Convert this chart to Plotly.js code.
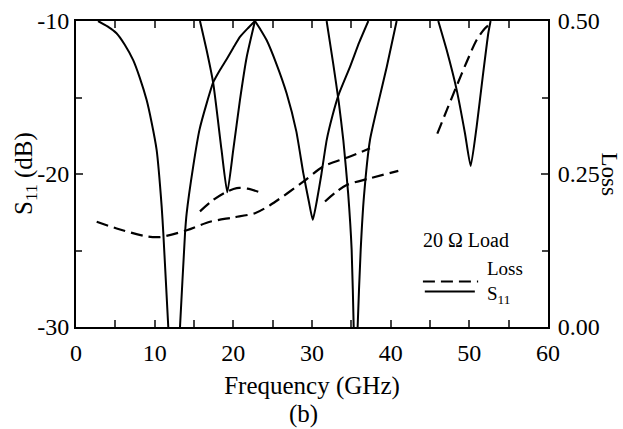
<!DOCTYPE html>
<html>
<head>
<meta charset="utf-8">
<script src="https://cdn.plot.ly/plotly-3.0.1.min.js"></script>
<style>
html,body{margin:0;padding:0;background:#fff;}
#chart{width:623px;height:429px;}
</style>
</head>
<body>
<div id="chart"></div>
<script>
// ---- S11 curves (dB) ----
const s11FreqA = [2.8, 4.0, 5.15, 6.2, 7.27, 8.1, 8.98, 9.6, 10.25, 10.89, 11.1, 11.73, 12.47, 13.22, 13.86, 14.07, 14.9, 15.7, 16.6, 17.45, 18.3, 19.15, 20.0, 20.84, 21.8, 22.75];
const s11ValA  = [-10, -10.35, -10.8, -11.55, -12.56, -13.7, -15.17, -16.6, -18.43, -22.13, -23.87, -30, -37, -30, -23.87, -22.56, -19.5, -17.1, -15.4, -14.0, -13.2, -12.5, -11.75, -11.04, -10.5, -10];

const s11FreqB = [22.75, 23.5, 24.24, 25.4, 26.78, 28.0, 28.9, 29.6, 30.1, 30.6, 31.2, 31.86, 32.6, 33.4, 34.83, 36.0, 37.16];
const s11ValB  = [-10, -10.6, -11.26, -12.7, -14.74, -17.2, -19.96, -21.8, -23.0, -21.8, -20.0, -17.8, -16.2, -14.8, -13.0, -11.4, -10];

const s11FreqC = [15.76, 16.6, 17.45, 18.5, 19.23, 19.99, 20.84, 21.7, 22.75];
const s11ValC  = [-10, -11.9, -14.08, -18.43, -21.2, -18.43, -15.17, -12.35, -10];

const s11FreqD = [31.86, 32.7, 33.4, 33.98, 34.6, 35.04, 35.3, 35.55, 35.8, 36.19, 36.6, 37.37, 38.4, 39.5, 40.76];
const s11ValD  = [-10, -12.8, -15.3, -17.78, -21.3, -24.96, -30, -38, -30, -24.96, -21.5, -17.78, -15.4, -13.0, -10];

const s11FreqE = [46.05, 47.12, 48.39, 49.45, 50.17, 50.93, 51.7, 52.41, 52.7];
const s11ValE  = [-10, -11.9, -14.5, -17.35, -19.48, -16.9, -13.65, -10.8, -10];

// ---- Loss curves ----
const lossFreq1 = [2.63, 5.17, 8.99, 10.7, 14.07, 17.03, 20.0, 22.75, 24.66, 28.85, 31.4, 34.5, 37.37];
const lossVal1  = [0.172, 0.161, 0.148, 0.147, 0.158, 0.172, 0.179, 0.186, 0.199, 0.237, 0.262, 0.277, 0.292];

const lossFreq2 = [15.76, 17.45, 19.16, 20.43, 21.8, 23.17];
const lossVal2  = [0.189, 0.2076, 0.221, 0.227, 0.226, 0.221];

const lossFreq3 = [31.65, 33.0, 34.4, 37.37, 40.97];
const lossVal3  = [0.205, 0.220, 0.232, 0.243, 0.255];

const lossFreq4 = [45.93, 47.12, 48.39, 49.66, 50.93, 52.0, 52.84];
const lossVal4  = [0.316, 0.354, 0.394, 0.433, 0.469, 0.488, 0.497];

// ---- axis ticks ----
const xTicks = [0, 10, 20, 30, 40, 50, 60];
const yTicks = [-30, -20, -10];
const yTickText = ['-30', '-20', '-10'];
const y2Ticks = [0, 0.25, 0.5];
const y2TickText = ['0.00', '0.25', '0.50'];

const FONT = "'Liberation Serif', 'Times New Roman', serif";

function s11(x, y) {
  return {x: x, y: y, type: 'scatter', mode: 'lines', yaxis: 'y', showlegend: false,
    line: {color: '#000', width: 2, shape: 'spline', smoothing: 0.5}, hoverinfo: 'skip'};
}
function loss(x, y) {
  return {x: x, y: y, type: 'scatter', mode: 'lines', yaxis: 'y2', showlegend: false,
    line: {color: '#000', width: 2.2, dash: '12px,6px', shape: 'spline', smoothing: 0.8}, hoverinfo: 'skip'};
}

const data = [
  s11(s11FreqA, s11ValA), s11(s11FreqB, s11ValB), s11(s11FreqC, s11ValC),
  s11(s11FreqD, s11ValD), s11(s11FreqE, s11ValE),
  loss(lossFreq1, lossVal1), loss(lossFreq2, lossVal2),
  loss(lossFreq3, lossVal3), loss(lossFreq4, lossVal4)
];

const layout = {
  width: 623, height: 429,
  margin: {l: 76, r: 75, t: 21, b: 102, pad: 0},
  paper_bgcolor: '#fff', plot_bgcolor: '#fff',
  font: {family: FONT, color: '#000', size: 24},
  showlegend: false,
  xaxis: {
    range: [0, 60], tickvals: xTicks, ticks: 'inside', ticklen: 7, tickwidth: 2,
    minor: {dtick: 5, ticks: 'inside', ticklen: 6, tickwidth: 2, tick0: 0},
    showline: true, linewidth: 2, linecolor: '#000', mirror: 'allticks',
    showgrid: false, zeroline: false,
    tickfont: {family: FONT, size: 24}, ticklabelstandoff: 3,
    title: {text: 'Frequency (GHz)', font: {family: FONT, size: 25}, standoff: 12}
  },
  yaxis: {
    range: [-30, -10], tickvals: yTicks, ticktext: yTickText, ticks: 'inside', ticklen: 7, tickwidth: 2,
    minor: {dtick: 5, ticks: 'inside', ticklen: 6, tickwidth: 2, tick0: 0},
    showline: true, linewidth: 2, linecolor: '#000', mirror: false,
    showgrid: false, zeroline: false,
    tickfont: {family: FONT, size: 24}, ticklabelstandoff: 0
  },
  yaxis2: {
    range: [0, 0.5], tickvals: y2Ticks, ticktext: y2TickText, overlaying: 'y', side: 'right',
    ticks: 'inside', ticklen: 7, tickwidth: 2,
    minor: {dtick: 0.125, ticks: 'inside', ticklen: 6, tickwidth: 2, tick0: 0},
    showline: true, linewidth: 2, linecolor: '#000',
    showgrid: false, zeroline: false,
    tickfont: {family: FONT, size: 24}, ticklabelstandoff: 3
  },
  shapes: [
    {type: 'line', xref: 'paper', yref: 'paper', x0: 0.735, x1: 0.852, y0: 0.1487, y1: 0.1487,
     line: {color: '#000', width: 2.2, dash: '12px,6px'}},
    {type: 'line', xref: 'paper', yref: 'paper', x0: 0.739, x1: 0.845, y0: 0.116, y1: 0.116,
     line: {color: '#000', width: 2}}
  ],
  annotations: [
    {text: 'S<sub>11</sub> (dB)', xref: 'paper', yref: 'paper', x: -0.108, y: 0.5, xanchor: 'center', yanchor: 'middle',
     textangle: -90, showarrow: false, borderpad: 0, font: {family: FONT, size: 25}},
    {text: '20 Ω Load', xref: 'paper', yref: 'paper', x: 0.73, y: 0.285, xanchor: 'left', yanchor: 'middle',
     showarrow: false, font: {family: FONT, size: 20}},
    {text: 'Loss<br>S<sub>11</sub>', xref: 'paper', yref: 'paper', x: 0.868, y: 0.145, xanchor: 'left', yanchor: 'middle',
     align: 'left', showarrow: false, borderpad: 0, font: {family: FONT, size: 19}},
    {text: 'Loss', xref: 'paper', yref: 'paper', x: 1.13, y: 0.497, xanchor: 'center', yanchor: 'middle',
     textangle: 90, showarrow: false, borderpad: 0, font: {family: FONT, size: 23}},
    {text: '(b)', xref: 'paper', yref: 'paper', x: 0.481, y: -0.283, xanchor: 'center', yanchor: 'middle',
     showarrow: false, font: {family: FONT, size: 25}}
  ]
};

Plotly.newPlot('chart', data, layout, {displayModeBar: false, staticPlot: true});
</script>
</body>
</html>
